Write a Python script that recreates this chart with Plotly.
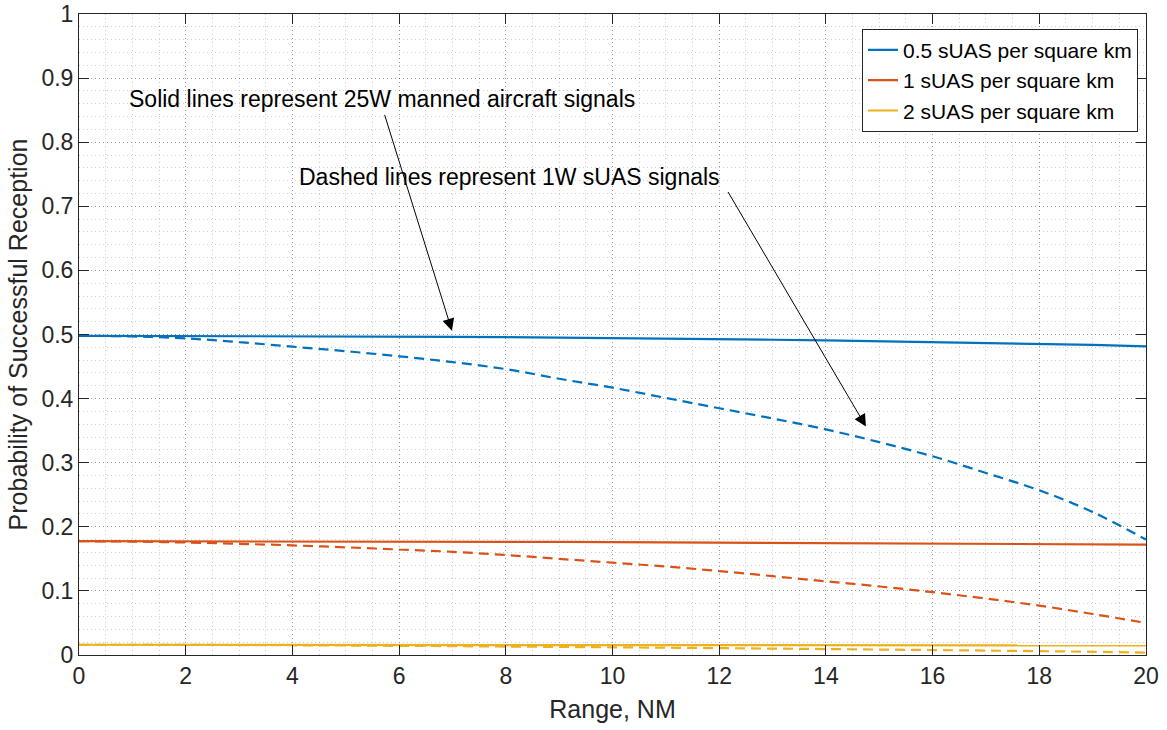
import plotly.graph_objects as go

# Range in nautical miles
range_nm = list(range(0, 21))

# Probability of successful reception, 25 W manned aircraft signals (solid)
p_manned_05 = [0.4980, 0.4979, 0.4978, 0.4976, 0.4974, 0.4971, 0.4968, 0.4964, 0.4958, 0.4952,
               0.4945, 0.4937, 0.4928, 0.4918, 0.4907, 0.4895, 0.4882, 0.4868, 0.4853, 0.4837, 0.4815]
p_manned_1 = [0.1775, 0.1775, 0.1774, 0.1773, 0.1772, 0.1771, 0.1770, 0.1768, 0.1766, 0.1764,
              0.1761, 0.1758, 0.1755, 0.1752, 0.1749, 0.1746, 0.1742, 0.1738, 0.1733, 0.1728, 0.1722]
p_manned_2 = [0.0160, 0.0160, 0.0160, 0.0159, 0.0159, 0.0159, 0.0158, 0.0158, 0.0157, 0.0157,
              0.0156, 0.0156, 0.0155, 0.0155, 0.0154, 0.0153, 0.0153, 0.0152, 0.0151, 0.0150, 0.0149]

# Probability of successful reception, 1 W sUAS signals (dashed)
p_suas_05 = [0.498, 0.497, 0.494, 0.488, 0.481, 0.474, 0.466, 0.457, 0.446, 0.431,
             0.417, 0.401, 0.385, 0.369, 0.352, 0.332, 0.310, 0.284, 0.257, 0.223, 0.180]
p_suas_1 = [0.1775, 0.1770, 0.1755, 0.1735, 0.1710, 0.1680, 0.1646, 0.1610, 0.1560, 0.1500,
            0.1440, 0.1380, 0.1310, 0.1230, 0.1150, 0.1070, 0.0980, 0.0880, 0.0770, 0.0640, 0.0500]
p_suas_2 = [0.0160, 0.0160, 0.0158, 0.0155, 0.0152, 0.0148, 0.0143, 0.0138, 0.0132, 0.0126,
            0.0120, 0.0114, 0.0107, 0.0100, 0.0093, 0.0085, 0.0077, 0.0069, 0.0060, 0.0050, 0.0038]

densities = ["0.5 sUAS per square km", "1 sUAS per square km", "2 sUAS per square km"]
colors = ["#0072BD", "#D95319", "#EDB120"]

x_ticks = list(range(0, 21, 2))
y_ticks = [0, 0.1, 0.2, 0.3, 0.4, 0.5, 0.6, 0.7, 0.8, 0.9, 1]
y_tick_labels = ["0", "0.1", "0.2", "0.3", "0.4", "0.5", "0.6", "0.7", "0.8", "0.9", "1"]

FONT = "Liberation Sans, Arial, Helvetica, sans-serif"
AXIS_COLOR = "#262626"

fig = go.Figure()

for name, color, ys in zip(densities, colors, [p_manned_05, p_manned_1, p_manned_2]):
    fig.add_trace(go.Scatter(x=range_nm, y=ys, mode="lines", name=name,
                             line=dict(color=color, width=2.2)))

for color, ys in zip(colors, [p_suas_05, p_suas_1, p_suas_2]):
    fig.add_trace(go.Scatter(x=range_nm, y=ys, mode="lines", showlegend=False,
                             line=dict(color=color, width=2.2, dash="10px,6px", shape="spline")))

grid_color = "rgba(38,38,38,0.30)"
minor_color = "rgba(38,38,38,0.22)"

axis_common = dict(
    showline=True, linecolor=AXIS_COLOR, linewidth=1, mirror="ticks",
    ticks="inside", ticklen=10, tickcolor=AXIS_COLOR, tickwidth=1,
    showgrid=True, gridcolor=grid_color, griddash="1px,3px", gridwidth=1,
    zeroline=False, automargin=False,
    tickfont=dict(family=FONT, size=23, color=AXIS_COLOR),
)

fig.update_xaxes(
    range=[0, 20], tickvals=x_ticks,
    title=dict(text="Range, NM", font=dict(family=FONT, size=25, color=AXIS_COLOR), standoff=12),
    minor=dict(dtick=0.5, showgrid=True, gridcolor=minor_color, griddash="1px,3px", ticks=""),
    **axis_common,
)
fig.update_yaxes(
    range=[0, 1], tickvals=y_ticks, ticktext=y_tick_labels,
    title=dict(text="Probability of Successful Reception",
               font=dict(family=FONT, size=25, color=AXIS_COLOR), standoff=6),
    minor=dict(dtick=0.02, showgrid=True, gridcolor=minor_color, griddash="1px,3px", ticks=""),
    **axis_common,
)

# Explanatory notes with arrows pointing at the two line styles
fig.add_annotation(x=0.9, y=0.868, xref="x", yref="y", text="Solid lines represent 25W manned aircraft signals",
                   showarrow=False, xanchor="left", yanchor="middle",
                   font=dict(family=FONT, size=23, color="black"))
fig.add_annotation(x=4.09, y=0.746, xref="x", yref="y", text="Dashed lines represent 1W sUAS signals",
                   showarrow=False, xanchor="left", yanchor="middle",
                   font=dict(family=FONT, size=23, color="black"))
fig.add_annotation(x=6.99, y=0.506, ax=5.72, ay=0.845, xref="x", yref="y", axref="x", ayref="y",
                   text="", showarrow=True, arrowhead=2, arrowsize=2.4, arrowwidth=1, arrowcolor="black")
fig.add_annotation(x=14.75, y=0.3565, ax=12.15, ay=0.7246, xref="x", yref="y", axref="x", ayref="y",
                   text="", showarrow=True, arrowhead=2, arrowsize=2.4, arrowwidth=1, arrowcolor="black")

fig.update_layout(
    width=1167, height=730,
    margin=dict(l=79, r=21, t=14, b=75),
    plot_bgcolor="white", paper_bgcolor="white",
    font=dict(family=FONT, color=AXIS_COLOR),
    legend=dict(x=0.9925, y=0.977, xanchor="right", yanchor="top",
                bgcolor="white", bordercolor=AXIS_COLOR, borderwidth=1,
                font=dict(family=FONT, size=21, color="black"),
                itemwidth=30),
    showlegend=True,
)

fig.write_html("out.html")
